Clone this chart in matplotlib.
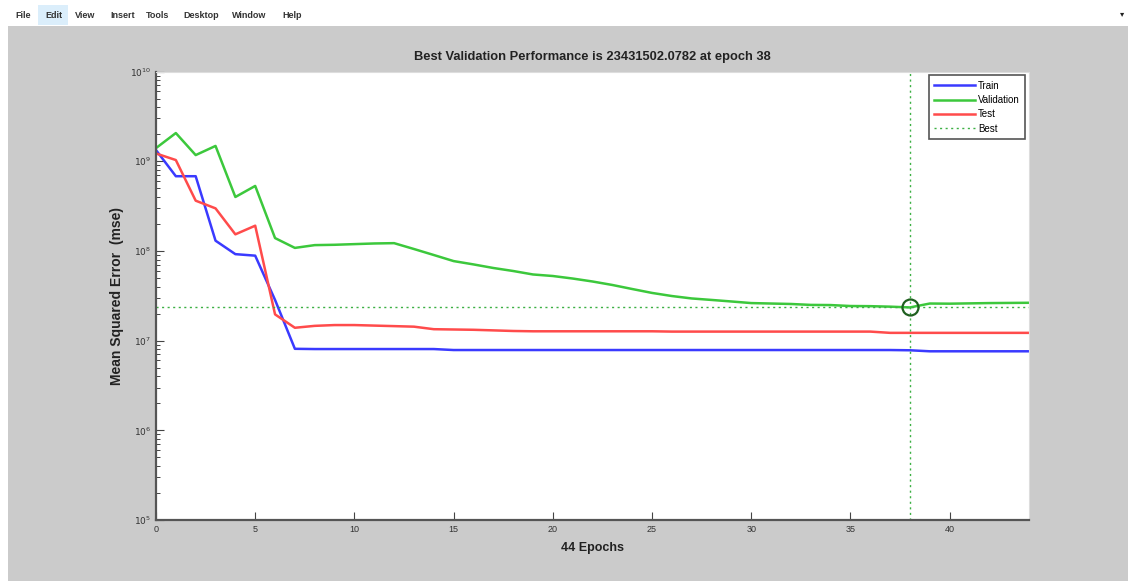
import matplotlib
matplotlib.use("Agg")
import matplotlib.pyplot as plt
from matplotlib.patches import Rectangle

plt.rcParams['font.family'] = ['Liberation Sans', 'DejaVu Sans']

epochs = list(range(45))
train = [1.33e9, 6.8e8, 6.8e8, 1.30e8, 9.2e7, 8.85e7, 2.84e7, 8.1e6, 8.05e6, 8.05e6,
         8.05e6, 8.05e6, 8.05e6, 8.05e6, 8.05e6, 7.85e6, 7.85e6, 7.85e6, 7.85e6, 7.85e6,
         7.85e6, 7.85e6, 7.85e6, 7.85e6, 7.85e6, 7.85e6, 7.85e6, 7.85e6, 7.85e6, 7.85e6,
         7.85e6, 7.85e6, 7.85e6, 7.85e6, 7.85e6, 7.85e6, 7.85e6, 7.85e6, 7.8e6, 7.6e6,
         7.6e6, 7.6e6, 7.6e6, 7.6e6, 7.6e6]
validation = [1.40e9, 2.06e9, 1.17e9, 1.48e9, 3.99e8, 5.3e8, 1.39e8, 1.08e8, 1.16e8, 1.17e8,
              1.19e8, 1.21e8, 1.22e8, 1.05e8, 9.0e7, 7.7e7, 7.07e7, 6.45e7, 5.97e7, 5.46e7,
              5.25e7, 4.92e7, 4.56e7, 4.17e7, 3.76e7, 3.40e7, 3.14e7, 2.95e7, 2.84e7, 2.73e7,
              2.62e7, 2.59e7, 2.56e7, 2.50e7, 2.49e7, 2.43e7, 2.42e7, 2.39e7, 2.3431502e7, 2.59e7,
              2.58e7, 2.60e7, 2.62e7, 2.63e7, 2.64e7]
test = [1.22e9, 1.03e9, 3.63e8, 2.98e8, 1.53e8, 1.91e8, 1.96e7, 1.39e7, 1.46e7, 1.49e7,
        1.49e7, 1.47e7, 1.45e7, 1.43e7, 1.34e7, 1.33e7, 1.32e7, 1.30e7, 1.28e7, 1.27e7,
        1.27e7, 1.27e7, 1.27e7, 1.27e7, 1.27e7, 1.27e7, 1.26e7, 1.26e7, 1.26e7, 1.26e7,
        1.26e7, 1.26e7, 1.26e7, 1.26e7, 1.26e7, 1.26e7, 1.26e7, 1.22e7, 1.22e7, 1.22e7,
        1.22e7, 1.22e7, 1.22e7, 1.22e7, 1.22e7]
best_epoch = 38
best_value = 23431502.0782
xticks = [0, 5, 10, 15, 20, 25, 30, 35, 40]
yticks = [1e5, 1e6, 1e7, 1e8, 1e9, 1e10]
ytick_labels = [r'$10^{5}$', r'$10^{6}$', r'$10^{7}$', r'$10^{8}$', r'$10^{9}$', r'$10^{10}$']
menu_items = ['File', 'Edit', 'View', 'Insert', 'Tools', 'Desktop', 'Window', 'Help']
menu_x = [15, 45, 75, 110, 146, 183, 232, 282]

W, H = 1128, 581
fig = plt.figure(figsize=(W / 100, H / 100), dpi=100)
fig.patch.set_facecolor('#cbcbcb')

# window chrome: white left strip and menu bar
fig.patches.append(Rectangle((0, 0), 8 / W, 1, transform=fig.transFigure,
                             facecolor='white', edgecolor='none', zorder=0))
fig.patches.append(Rectangle((0, 1 - 26 / H), 1, 26 / H, transform=fig.transFigure,
                             facecolor='white', edgecolor='none', zorder=0))
fig.patches.append(Rectangle((38 / W, 1 - 25 / H), 30 / W, 20 / H, transform=fig.transFigure,
                             facecolor='#dbeefb', edgecolor='none', zorder=1))
for name, mx in zip(menu_items, menu_x):
    fig.text(mx / W, 1 - 15 / H, name, fontsize=6.5, fontweight='bold',
             color='#333333', va='center', ha='left')
fig.text(1122 / W, 1 - 15 / H, '\u25be', fontsize=6, color='#222222', va='center', ha='center')

ax = fig.add_axes([156 / W, 1 - 520 / H, (1029 - 156) / W, (520 - 71.5) / H])
ax.set_facecolor('white')

ax.plot(epochs, train, color='#3a3aff', lw=1.8, label='Train')
ax.plot(epochs, validation, color='#3cc83c', lw=1.8, label='Validation')
ax.plot(epochs, test, color='#ff4b4b', lw=1.8, label='Test')
ax.axhline(best_value, color='#3cb043', lw=1.0, ls=(0, (1.5, 2.5)), label='Best')
ax.axvline(best_epoch, color='#3cb043', lw=1.0, ls=(0, (1.5, 2.5)))
ax.plot([best_epoch], [best_value], 'o', ms=11.5, mfc='none', mec='#1f5f1f', mew=1.6)

ax.set_yscale('log')
ax.set_xlim(0, 44)
ax.set_ylim(1e5, 1e10)
ax.set_xticks(xticks)
ax.set_xticklabels([str(t) for t in xticks], fontsize=6.5, color='#333333')
ax.set_yticks(yticks)
ax.set_yticklabels(ytick_labels, fontsize=6.5, color='#333333')
ax.tick_params(axis='both', which='major', direction='in', length=6, width=0.8,
               color='#444444', top=False, right=False)
ax.tick_params(axis='y', which='minor', direction='in', length=3, width=0.7,
               color='#444444', right=False)
for s in ['left', 'bottom']:
    ax.spines[s].set_color('#555555')
    ax.spines[s].set_linewidth(1.6)
for s in ['top', 'right']:
    ax.spines[s].set_color('#dddddd')
    ax.spines[s].set_linewidth(0.8)

ax.set_title('Best Validation Performance is 23431502.0782 at epoch 38',
             fontsize=9.3, fontweight='bold', color='#222222', pad=8)
ax.set_xlabel('44 Epochs', fontsize=9, fontweight='bold', color='#222222', labelpad=6)
ax.set_ylabel('Mean Squared Error  (mse)', fontsize=10, fontweight='bold',
              color='#222222', labelpad=4)

leg = ax.legend(loc='upper right', fontsize=7, handlelength=4.2, handletextpad=0.3,
                labelspacing=0.45, borderpad=0.55, borderaxespad=0.4, fancybox=False,
                framealpha=1, edgecolor='#555555')
leg.get_frame().set_linewidth(1.2)

fig.savefig('out.png', dpi=100, facecolor=fig.get_facecolor())
